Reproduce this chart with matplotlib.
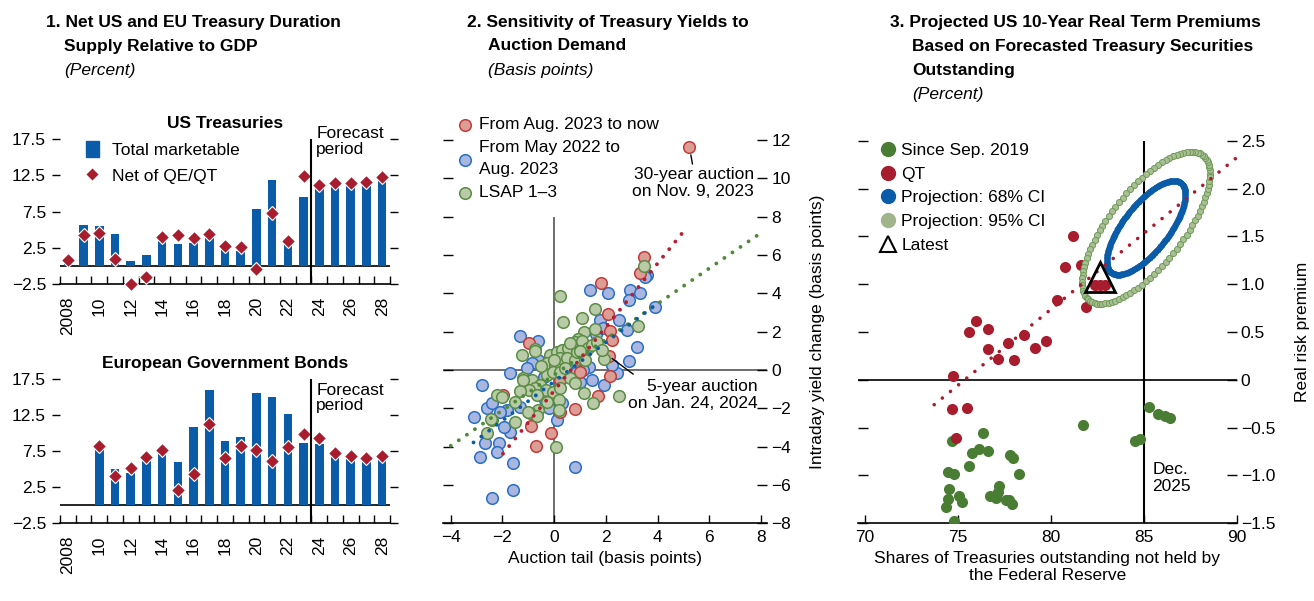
import numpy as np
import matplotlib.pyplot as plt
from matplotlib.lines import Line2D
from matplotlib.patches import Patch

plt.rcParams['font.family'] = ['Liberation Sans', 'DejaVu Sans']
plt.rcParams['font.size'] = 12.5
plt.rcParams['axes.unicode_minus'] = True

FS = 12.5
BLUE = '#0b5ca8'
RED = '#a81d2e'
DKGREEN = '#4a7d34'

# ---- panel 1 data (percent of GDP) ----
years = np.arange(2008, 2029)
year_labels = ['2008', '10', '12', '14', '16', '18', '20', '22', '24', '26', '28']
us_total = [0.4, 5.6, 5.5, 4.4, 0.7, 1.5, 3.8, 3.0, 3.2, 4.0, 2.2, 2.1, 7.8, 11.8, 3.1, 9.5,
            10.8, 11.0, 11.0, 11.1, 11.9]
us_net = [0.8, 4.3, 4.55, 1.0, -2.5, -1.5, 4.05, 4.3, 3.9, 4.45, 2.7, 2.6, -0.45, 7.35, 3.5, 12.4,
          11.1, 11.45, 11.5, 11.6, 12.3]
eu_total = [np.nan, np.nan, 7.8, 5.0, 4.5, 6.2, 7.2, 6.0, 10.9, 16.0, 8.9, 9.5, 15.6, 15.0, 12.6, 8.6,
            8.5, 6.9, 6.5, 6.3, 6.5]
eu_net = [np.nan, np.nan, 8.15, 4.1, 5.1, 6.7, 7.7, 2.1, 4.3, 11.25, 6.6, 8.25, 7.6, 6.1, 8.05, 9.9,
          9.3, 7.25, 6.85, 6.5, 6.85]
forecast_start = 2023.5

# ---- panel 2 data (basis points) ----
recent_x = [5.23, 3.49, 3.32, 1.80, 2.10, 2.16, 2.23, -0.99, 2.11, 0.98, 2.14, 0.23, -1.98, 1.70,
            0.79, 0.23, -0.91, -0.11, -0.70]
recent_y = [11.65, 5.91, 5.04, 4.56, 2.90, 2.05, 1.57, 1.39, 0.73, -0.09, -0.31, -0.52, -1.33, -1.36,
            -2.05, -2.17, -2.90, -3.28, -3.99]
mid_x = [1.39, 2.10, 2.94, 3.32, 3.58, 3.50, 3.90, 2.91, 1.78, 2.49, 2.81, 3.20, 2.91, -1.31, -0.61,
         -1.70, -2.80, -3.12, -2.60, -2.41, -2.67, -2.86, -2.15, -2.22, -1.70, -1.61, -1.61, -2.41,
         0.10, 0.79, 2.42, 2.23, 1.91, 1.46, 1.01, 1.33, 1.13, 0.10, 0.30, -0.61, -0.86, -1.06,
         -0.73, -0.41, 0.81, 0.36, -1.31, -1.83, -2.09, -1.96, -0.35, -0.22, 0.50, 0.60, -0.20,
         1.60, 1.90]
mid_y = [4.17, 4.00, 4.17, 4.00, 4.96, 4.85, 3.30, 3.65, 2.61, 2.61, 2.09, 1.18, 0.49, 1.77, 1.53,
         -0.17, -0.78, -2.43, -2.00, -1.74, -3.83, -4.52, -3.83, -4.26, -3.22, -4.87, -6.26, -6.70,
         -2.61, -5.08, -0.17, 0.26, -0.78, -0.52, -0.61, 0.17, 0.00, -1.65, -1.74, 0.52, 0.35, 0.09,
         -0.78, -0.35, -0.17, 0.00, -1.91, -2.09, -2.17, -2.96, -1.57, -2.00, 0.30, 0.90, 0.50,
         1.90, 2.20]
lsap_x = [0.21, 3.48, 1.59, 1.07, 0.36, 1.16, 1.56, 3.26, 0.91, -0.73, -1.25, -0.73, -0.15, 0.10,
          0.30, 0.55, 0.81, 1.07, 1.29, 1.46, 1.65, 1.91, -0.26, 0.04, 0.23, 0.49, 0.81, 1.20,
          -0.28, -0.03, 0.23, 0.62, 0.81, -1.19, -0.86, -0.54, -0.73, -0.99, -1.34, -0.31, -0.03,
          0.23, -0.28, 0.17, -0.61, -0.93, -1.51, -1.51, -2.22, -2.02, -2.40, -2.60, 1.16, 1.49,
          2.49, 0.08, 0.88, 1.84, -0.67, -1.22, -0.67, -1.02, 0.17, -2.44, 0.40, 0.60, 1.00,
          -0.50, 0.00]
lsap_y = [3.86, 5.43, 3.17, 2.70, 2.52, 2.00, 2.12, 2.30, 1.60, 1.08, 0.78, 1.00, 0.78, 0.96,
          1.04, 1.13, 1.48, 1.53, 1.13, 1.30, 1.48, 0.56, 0.35, 0.26, 0.61, 0.61, 0.52, 0.52,
          -0.26, -0.09, -0.09, -0.43, -0.70, -0.43, -0.52, -0.78, -0.96, -1.04, -1.08, -1.04, -1.13,
          -0.96, -1.65, -1.57, -2.09, -2.26, -1.65, -2.70, -1.30, -1.39, -2.61, -3.30, -1.22, -1.70,
          -1.36, -4.00, 0.96, 1.04, -1.30, -0.52, -2.38, -2.19, -2.09, -2.57, 0.10, 1.40, 1.00,
          0.20, 0.50]
# fitted lines: (slope, intercept, x-start, x-end)
fit_recent = (1.66, -1.08, -1.98, 5.10)
fit_mid = (1.02, -0.60, -3.12, 3.90)
fit_lsap = (0.926, -0.25, -4.0, 8.0)

# ---- panel 3 data (percent) ----
qt_x = [81.19, 80.74, 81.62, 82.39, 82.66, 82.93, 80.33, 81.91, 75.96, 75.57, 76.59, 78.53, 79.75,
        77.67, 79.16, 76.59, 77.18, 77.99, 74.72, 74.70, 75.48, 74.89]
qt_y = [1.50, 1.18, 1.20, 0.99, 0.99, 0.99, 0.83, 0.76, 0.62, 0.50, 0.53, 0.47, 0.41, 0.38, 0.33,
        0.32, 0.22, 0.21, 0.035, -0.31, -0.29, -0.61]
sep19_x = [85.26, 85.75, 86.13, 86.43, 81.73, 84.55, 84.78, 76.37, 74.70, 75.74, 76.14, 76.59,
           75.62, 77.81, 77.95, 78.31, 74.49, 74.76, 74.54, 75.06, 75.21, 74.44, 74.37, 74.76,
           77.23, 76.75, 77.02, 77.14, 77.56, 77.89, 77.76]
sep19_y = [-0.28, -0.357, -0.378, -0.396, -0.473, -0.637, -0.62, -0.553, -0.64, -0.77, -0.72,
           -0.74, -0.90, -0.79, -0.82, -0.98, -0.96, -0.98, -1.145, -1.21, -1.28, -1.25, -1.33,
           -1.48, -1.11, -1.21, -1.24, -1.17, -1.26, -1.30, -1.26]
latest = (82.64, 1.07)
qt_fit = (0.1587, 1.53, 85.0, 73.72, 90.0)  # slope, value at ref x, ref x, x-start, x-end
proj_center = (85.12, 1.59)
proj_sd = (1.40, 0.325)
proj_corr = 0.71
dec2025 = 85.0

W, H = 1314, 601


def rect(x0, y0, x1, y1):
    return [x0 / W, 1 - y1 / H, (x1 - x0) / W, (y1 - y0) / H]


fig = plt.figure(figsize=(W / 100, H / 100), dpi=100)


def title_lines(x0, x1, lines, sub):
    for i, t in enumerate(lines):
        fig.text((x0 if i == 0 else x1) / W, 1 - (26.5 + 24 * i) / H, t,
                 fontweight='bold', fontsize=FS, va='baseline')
    fig.text(x1 / W, 1 - (26.5 + 24 * len(lines)) / H, sub, style='italic',
             fontsize=FS, va='baseline')


title_lines(46, 64, ['1. Net US and EU Treasury Duration', 'Supply Relative to GDP'], '(Percent)')
title_lines(467, 488, ['2. Sensitivity of Treasury Yields to', 'Auction Demand'], '(Basis points)')
title_lines(890, 912, ['3. Projected US 10-Year Real Term Premiums',
                       'Based on Forecasted Treasury Securities', 'Outstanding'], '(Percent)')


# ---- panel 1 ----
def duration_panel(ax, total, net, name, text_y, legend):
    ax.axhline(0, color='black', lw=1.2, zorder=1)
    ax.bar(years, total, width=0.55, color=BLUE, zorder=2, label='Total marketable')
    ax.plot(years, net, ls='none', marker='D', ms=7, mfc=RED, mec='white', mew=0.8,
            zorder=3, label='Net of QE/QT', clip_on=False)
    ax.axvline(forecast_start, color='black', lw=1.5, zorder=4)
    ax.text(forecast_start + 0.3, text_y, 'Forecast\nperiod', va='top', ha='left',
            linespacing=1.05, fontsize=FS, clip_on=False)
    ax.set_xlim(2007.5, 2028.5)
    ax.set_ylim(-2.5, 17.5)
    ax.set_yticks([-2.5, 2.5, 7.5, 12.5, 17.5])
    ax.tick_params(axis='y', left=True, right=True, labelleft=True, labelright=False,
                   direction='out', length=6, width=1, pad=4)
    ax.set_xticks(years[::2], labels=year_labels, rotation=90)
    ax.set_xticks(np.arange(2007.5, 2029, 1), minor=True)
    ax.tick_params(axis='x', which='major', length=0, pad=9)
    ax.tick_params(axis='x', which='minor', direction='in', length=6, width=1)
    for s in ('left', 'right', 'top'):
        ax.spines[s].set_visible(False)
    ax.spines['bottom'].set_linewidth(1.2)
    ax.set_title(name, fontweight='bold', fontsize=FS, pad=8)
    if legend:
        handles = [Patch(color=BLUE, label='Total marketable'),
                   Line2D([], [], ls='none', marker='D', ms=7, mfc=RED, mec='white',
                          label='Net of QE/QT')]
        ax.legend(handles=handles, loc='upper left', bbox_to_anchor=(0.08, 0.985),
                  frameon=False, handlelength=0.7, handleheight=1.0, handletextpad=0.75,
                  labelspacing=0.55, borderpad=0, borderaxespad=0, fontsize=FS)


ax1 = fig.add_axes(rect(60, 139, 390, 284))
duration_panel(ax1, us_total, us_net, 'US Treasuries', 19.3, True)
ax1b = fig.add_axes(rect(60, 379, 390, 523.3))
duration_panel(ax1b, eu_total, eu_net, 'European Government Bonds', 17.0, False)

# ---- panel 2 ----
ax2 = fig.add_axes(rect(443, 140, 767, 523.3))
ax2.axhline(0, color='#555555', lw=1.2, zorder=1)
ax2.vlines(0, -8, 8, color='#555555', lw=1.2, zorder=1)
sc_kw = dict(s=70, linewidths=1.1, zorder=3)
ax2.scatter(mid_x, mid_y, facecolor='#a9b7e0', edgecolor='#2a6fc4',
            label='From May 2022 to\nAug. 2023', **sc_kw)
ax2.scatter(recent_x, recent_y, facecolor='#dc9d95', edgecolor='#c23a3a',
            label='From Aug. 2023 to now', **sc_kw)
ax2.scatter(lsap_x, lsap_y, facecolor='#b9caa6', edgecolor='#5a8c45', label='LSAP 1–3', **sc_kw)
for (slope, icpt, xa, xb), col in [(fit_lsap, '#4f8a3a'), (fit_mid, '#0b5ca8'),
                                   (fit_recent, '#b51f30')]:
    fx = np.array([xa, xb])
    ax2.plot(fx, icpt + slope * fx, color=col, lw=2.8, ls=(0, (0.01, 2.5)),
             dash_capstyle='round', zorder=4)
ax2.annotate('30-year auction\non Nov. 9, 2023', xy=(recent_x[0], recent_y[0]),
             xytext=(7.72, 10.6), ha='right', va='top', fontsize=FS, linespacing=1.2,
             arrowprops=dict(arrowstyle='-', color='black', lw=1, relpos=(0.5, 1.0),
                             shrinkA=0, shrinkB=6))
ax2.annotate('5-year auction\non Jan. 24, 2024', xy=(recent_x[8], recent_y[8]),
             xytext=(7.85, -0.45), ha='right', va='top', fontsize=FS, linespacing=1.2,
             arrowprops=dict(arrowstyle='-', color='black', lw=1, relpos=(0.09, 1.0),
                             shrinkA=2, shrinkB=3))
ax2.set_xlim(-4.3, 8.23)
ax2.set_ylim(-8, 12)
ax2.set_xticks(np.arange(-4, 9, 2))
ax2.set_yticks(np.arange(-8, 13, 2))
ax2.tick_params(axis='x', direction='in', length=6, width=1, pad=5)
ax2.tick_params(axis='y', left=True, right=True, labelleft=False, labelright=True,
                direction='in', length=7, width=1, pad=3)
for s in ('left', 'right', 'top'):
    ax2.spines[s].set_visible(False)
ax2.spines['bottom'].set_linewidth(1.2)
ax2.set_xlabel('Auction tail (basis points)', fontsize=FS, labelpad=4)
ax2.yaxis.set_label_position('right')
ax2.set_ylabel('Intraday yield change (basis points)', fontsize=FS, labelpad=14)
h, l = ax2.get_legend_handles_labels()
leg2 = ax2.legend([h[1], h[0], h[2]], [l[1], l[0], l[2]], loc='upper left',
                  bbox_to_anchor=(0.04, 1.06), frameon=False, handletextpad=0.35,
                  labelspacing=0.45, borderpad=0, borderaxespad=0, fontsize=FS,
                  handlelength=1.0)
for t in leg2.get_texts():
    t.set_linespacing(1.6)

# ---- panel 3 ----
ax3 = fig.add_axes(rect(858, 140.7, 1236.7, 523.3))
ax3.axhline(0, color='black', lw=1.2, zorder=1)
ax3.axvline(dec2025, color='black', lw=1.5, zorder=1)
ax3.scatter(sep19_x, sep19_y, s=64, color=DKGREEN, linewidths=0, zorder=3)
ax3.scatter(qt_x, qt_y, s=64, color=RED, linewidths=0, zorder=3)
slope, yref, xref, xa, xb = qt_fit
fx = np.array([xa, xb])
ax3.plot(fx, yref + slope * (fx - xref), color=RED, lw=2.6, ls=(0, (0.01, 2.9)),
         dash_capstyle='round', zorder=6, clip_on=False)
for level, n, kw in [(0.95, 100, dict(ms=4.4, mfc='#aabf95', mec='#6f9c58', mew=0.7)),
                     (0.68, 400, dict(ms=4.2, mfc=BLUE, mec=BLUE, mew=0))]:
    k = np.sqrt(-2 * np.log(1 - level))
    t = np.linspace(0, 2 * np.pi, n, endpoint=False)
    ex = proj_center[0] + k * proj_sd[0] * np.cos(t)
    ey = proj_center[1] + k * proj_sd[1] * (proj_corr * np.cos(t)
                                            + np.sqrt(1 - proj_corr ** 2) * np.sin(t))
    ax3.plot(ex, ey, ls='none', marker='o', zorder=5, **kw)
ax3.plot(*latest, ls='none', marker='^', ms=21, mfc='none', mec='black', mew=2, zorder=7)
ax3.text(dec2025 + 0.45, -0.86, 'Dec.\n2025', va='top', ha='left', fontsize=FS, linespacing=1.2)
ax3.set_xlim(69.62, 90)
ax3.set_ylim(-1.5, 2.5)
ax3.set_xticks(np.arange(70, 91, 5))
yt = np.arange(-1.5, 2.6, 0.5)
ax3.set_yticks(yt, labels=['0' if abs(v) < 1e-9 else f'{v:.1f}'.replace('-', '\u2212') for v in yt])
ax3.tick_params(axis='x', direction='in', length=6, width=1, pad=5)
ax3.tick_params(axis='y', left=True, right=True, labelleft=False, labelright=True,
                direction='in', length=7, width=1, pad=3)
for s in ('left', 'right', 'top'):
    ax3.spines[s].set_visible(False)
ax3.spines['bottom'].set_linewidth(1.2)
ax3.set_xlabel('Shares of Treasuries outstanding not held by\nthe Federal Reserve', fontsize=FS,
               labelpad=4, linespacing=1.15)
ax3.yaxis.set_label_position('right')
ax3.set_ylabel('Real risk premium', fontsize=FS, labelpad=14)
handles3 = [Line2D([], [], ls='none', marker='o', ms=10, color=DKGREEN, label='Since Sep. 2019'),
            Line2D([], [], ls='none', marker='o', ms=10, color=RED, label='QT'),
            Line2D([], [], ls='none', marker='o', ms=10, color=BLUE, label='Projection: 68% CI'),
            Line2D([], [], ls='none', marker='o', ms=10, color='#9fb48a', label='Projection: 95% CI'),
            Line2D([], [], ls='none', marker='^', ms=12, mfc='none', mec='black', mew=1.5,
                   label='Latest')]
ax3.legend(handles=handles3, loc='upper left', bbox_to_anchor=(0.055, 0.995), frameon=False,
           handletextpad=0.3, labelspacing=0.5, borderpad=0, borderaxespad=0, fontsize=FS,
           handlelength=1.0)

fig.savefig('out.png', dpi=100)
